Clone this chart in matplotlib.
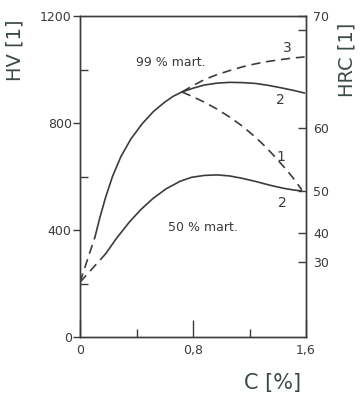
import matplotlib
matplotlib.use("Agg")
import matplotlib.pyplot as plt

# ---- data (C [%], HV) ----
c_start_99 = [0.0, 0.106]
hv_start_99 = [205, 374]
c_99 = [0.106, 0.14, 0.18, 0.23, 0.29, 0.36, 0.44, 0.52, 0.60, 0.66, 0.722]
hv_99 = [374, 445, 520, 600, 675, 740, 797, 843, 878, 900, 916]

c_curve2_top = [0.722, 0.80, 0.88, 0.97, 1.06, 1.15, 1.24, 1.33, 1.42, 1.51, 1.59]
hv_curve2_top = [916, 930, 942, 949, 952, 951, 948, 941, 932, 922, 912]

c_curve3 = [0.722, 0.80, 0.88, 0.97, 1.06, 1.15, 1.24, 1.33, 1.42, 1.51, 1.59]
hv_curve3 = [916, 940, 962, 981, 996, 1010, 1021, 1030, 1037, 1043, 1047]

c_curve1 = [0.722, 0.80, 0.88, 0.97, 1.06, 1.15, 1.24, 1.32, 1.40, 1.47, 1.52, 1.57]
hv_curve1 = [916, 898, 878, 852, 822, 788, 748, 708, 662, 620, 587, 550]

c_start_50 = [0.0, 0.18]
hv_start_50 = [205, 310]
c_50 = [0.18, 0.26, 0.35, 0.43, 0.517, 0.61, 0.708, 0.79, 0.88, 0.97, 1.06,
        1.15, 1.24, 1.34, 1.44, 1.52, 1.57]
hv_50 = [310, 370, 430, 476, 518, 554, 582, 597, 604, 606, 602,
         593, 582, 568, 556, 549, 546]

hv_ticks = [0, 400, 800, 1200]
hv_minor = [200, 600, 1000]
c_ticks = [0, 0.8, 1.6]
c_tick_labels = ["0", "0,8", "1,6"]
c_minor = [0.4, 1.2]
hrc_labels = ["70", "60", "50", "40", "30"]
hrc_pos_hv = [1200, 781, 546, 389, 280]
hrc_minor_hv = [1148]

line_col = "#3c3c3c"
text_col = "#3a3a3a"
label_col = "#3b4a44"

fig = plt.figure(figsize=(3.63, 3.96), dpi=100)
ax = fig.add_axes([80 / 363, 1 - 337 / 396, (306 - 80) / 363, (337 - 16) / 396])

dash = (0, (5.5, 3.5))
lw = 1.2
kw = dict(color=line_col, lw=lw, solid_joinstyle="round", solid_capstyle="round")
ax.plot(c_start_99, hv_start_99, linestyle=dash, **kw)
ax.plot(c_99, hv_99, **kw)
ax.plot(c_curve2_top, hv_curve2_top, **kw)
ax.plot(c_curve3, hv_curve3, linestyle=dash, **kw)
ax.plot(c_curve1, hv_curve1, linestyle=dash, **kw)
ax.plot(c_start_50, hv_start_50, linestyle=dash, **kw)
ax.plot(c_50, hv_50, **kw)

ax.set_xlim(0, 1.6)
ax.set_ylim(0, 1200)

for s in ax.spines.values():
    s.set_color(line_col)
    s.set_linewidth(1.0)

ax.set_yticks(hv_ticks)
ax.set_yticklabels([str(v) for v in hv_ticks])
ax.set_yticks(hv_minor, minor=True)
ax.tick_params(axis="y", which="major", direction="out", length=5, width=1.0,
               color=line_col, labelsize=9, labelcolor=text_col, pad=1)
ax.tick_params(axis="y", which="minor", direction="in", length=6, width=1.0,
               color=line_col)

ax.set_xticks(c_ticks)
ax.set_xticklabels(c_tick_labels)
ax.set_xticks(c_minor, minor=True)
ax.tick_params(axis="x", which="major", direction="in", length=12, width=1.0,
               color=line_col, labelsize=9, labelcolor=text_col, pad=5)
ax.tick_params(axis="x", which="minor", direction="in", length=6, width=1.0,
               color=line_col)

ax2 = ax.twinx()
ax2.set_ylim(0, 1200)
ax2.set_yticks(hrc_pos_hv)
ax2.set_yticklabels(hrc_labels)
ax2.set_yticks(hrc_minor_hv, minor=True)
ax2.tick_params(axis="y", which="major", direction="in", length=6, width=1.0,
                color=line_col, labelsize=9, labelcolor=text_col, pad=5)
ax2.tick_params(axis="y", which="minor", direction="in", length=6, width=1.0,
                color=line_col)
for s in ax2.spines.values():
    s.set_color(line_col)
    s.set_linewidth(1.0)

# annotations
ax.text(0.644, 1028, "99 % mart.", fontsize=9, color=text_col, ha="center", va="center")
ax.text(0.87, 411, "50 % mart.", fontsize=9, color=text_col, ha="center", va="center")
ax.text(1.47, 1080, "3", fontsize=10, color=text_col, ha="center", va="center")
ax.text(1.42, 886, "2", fontsize=10, color=text_col, ha="center", va="center")
ax.text(1.42, 673, "1", fontsize=10, color=text_col, ha="center", va="center")
ax.text(1.43, 501, "2", fontsize=10, color=text_col, ha="center", va="center")

fig.text(15 / 363, 1 - 50 / 396, "HV [1]", rotation=90, fontsize=14,
         color=label_col, ha="center", va="center")
fig.text(347 / 363, 1 - 60 / 396, "HRC [1]", rotation=90, fontsize=14,
         color=label_col, ha="center", va="center")
fig.text(273 / 363, 1 - 383 / 396, "C [%]", fontsize=15,
         color=label_col, ha="center", va="center")

fig.savefig("out.png", dpi=100)
